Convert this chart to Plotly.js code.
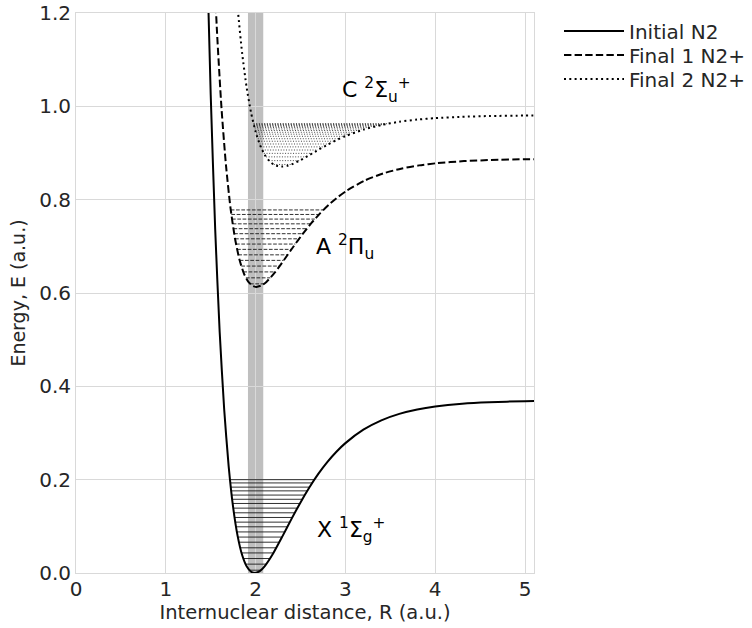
<!DOCTYPE html>
<html>
<head>
<meta charset="utf-8">
<script src="https://cdn.plot.ly/plotly-3.0.1.min.js"></script>
<style>html,body{margin:0;padding:0;background:#fff}</style>
</head>
<body>
<div id="chart" style="width:752px;height:628px"></div>
<script>
// ---- Potential curves ----
const xR = [1.46,1.5,1.55,1.6,1.65,1.7,1.75,1.8,1.85,1.9,1.95,1.99,2.05,2.1,2.2,2.3,2.4,2.5,2.6,2.7,2.8,2.9,3.0,3.2,3.4,3.6,3.8,4.0,4.3,4.6,5.0,5.2];
const xE = [1.316,1.025,0.736,0.516,0.351,0.2286,0.1404,0.0791,0.0386,0.0144,0.0026,0,0.0047,0.0144,0.0435,0.079,0.1159,0.1513,0.1838,0.2128,0.2381,0.2598,0.2783,0.3071,0.3272,0.341,0.3504,0.3568,0.3628,0.366,0.3682,0.3692];

const aR = [1.52,1.57,1.62,1.67,1.72,1.77,1.82,1.87,1.92,1.97,2.01,2.07,2.12,2.22,2.32,2.42,2.52,2.62,2.72,2.82,2.92,3.02,3.22,3.42,3.62,3.82,4.02,4.32,4.62,5.02,5.22];
const aE = [1.375,1.160,0.9966,0.8739,0.7829,0.7174,0.6718,0.6417,0.6237,0.6149,0.613,0.6165,0.6237,0.6453,0.6717,0.6991,0.7254,0.7496,0.7711,0.7899,0.8061,0.8199,0.8413,0.8562,0.8664,0.8735,0.8782,0.8826,0.885,0.8867,0.8868];

const cR = [1.76,1.8,1.85,1.9,1.95,2.0,2.05,2.1,2.15,2.2,2.25,2.29,2.35,2.4,2.5,2.6,2.7,2.8,2.9,3.0,3.2,3.4,3.6,3.8,4.0,4.3,4.6,5.0,5.2];
const cE = [1.309,1.2108,1.114,1.0406,0.9858,0.9455,0.9166,0.8965,0.8834,0.8756,0.8718,0.871,0.8725,0.8756,0.8847,0.8957,0.907,0.9178,0.9276,0.9362,0.9501,0.96,0.9669,0.9716,0.9747,0.9776,0.9792,0.9802,0.9805];

// ---- Vibrational levels: energy, left and right turning points ----
const xLevE = [0.006,0.019,0.031,0.043,0.054,0.066,0.077,0.088,0.099,0.109,0.119,0.129,0.139,0.149,0.158,0.167,0.176,0.184,0.193,0.2];
const xLevL = [1.930,1.888,1.863,1.843,1.828,1.814,1.802,1.791,1.782,1.773,1.765,1.758,1.751,1.744,1.739,1.733,1.728,1.723,1.718,1.714];
const xLevR = [2.058,2.119,2.161,2.198,2.231,2.264,2.295,2.324,2.354,2.381,2.409,2.436,2.465,2.493,2.520,2.547,2.575,2.601,2.630,2.654];

const aLevE = [0.6196,0.6325,0.6452,0.6577,0.6699,0.6818,0.6935,0.7049,0.7161,0.7271,0.7378,0.7482,0.7584,0.7683,0.778];
const aLevL = [1.938,1.892,1.863,1.841,1.823,1.807,1.794,1.782,1.771,1.761,1.753,1.744,1.737,1.730,1.723];
const aLevR = [2.094,2.165,2.220,2.268,2.313,2.357,2.399,2.442,2.484,2.526,2.570,2.614,2.659,2.706,2.755];

const cLevE = [0.8754,0.8837,0.8917,0.8992,0.9064,0.9131,0.9193,0.9252,0.9306,0.9357,0.9403,0.9444,0.9482,0.9515,0.9545,0.957,0.959,0.9607,0.9619,0.9628];
const cLevL = [2.202,2.149,2.116,2.092,2.073,2.057,2.044,2.033,2.024,2.015,2.008,2.002,1.996,1.991,1.987,1.984,1.981,1.979,1.978,1.977];
const cLevR = [2.397,2.491,2.565,2.631,2.694,2.755,2.815,2.875,2.934,2.993,3.052,3.110,3.168,3.225,3.279,3.330,3.377,3.417,3.449,3.471];

// ---- Franck-Condon band and labels ----
const bandR = [1.915, 2.085];
const seriesNames = ['Initial N2', 'Final 1 N2+', 'Final 2 N2+'];
const stateLabels = ['X <sup>1</sup>Σ<sub>g</sub><sup>+</sup>', 'A <sup>2</sup>Π<sub>u</sub>', 'C <sup>2</sup>Σ<sub>u</sub><sup>+</sup>'];
const labelR = [2.665, 2.645, 2.94];
const labelE = [0.092, 0.698, 1.035];
const xTicks = [0,1,2,3,4,5];
const yTicks = [0,0.2,0.4,0.6,0.8,1.0,1.2];

function segs(L, R, E) {
  const x = [], y = [];
  for (let i = 0; i < E.length; i++) { x.push(L[i], R[i], null); y.push(E[i], E[i], null); }
  return {x, y};
}
const sx = segs(xLevL, xLevR, xLevE);
const sa = segs(aLevL, aLevR, aLevE);
const sc = segs(cLevL, cLevR, cLevE);

const traces = [
  {x: sx.x, y: sx.y, mode: 'lines', showlegend: false, hoverinfo: 'skip',
   line: {color: '#1a1a1a', width: 0.9}},
  {x: sa.x, y: sa.y, mode: 'lines', showlegend: false, hoverinfo: 'skip',
   line: {color: '#1a1a1a', width: 0.9, dash: '3.7px,1.6px'}},
  {x: sc.x, y: sc.y, mode: 'lines', showlegend: false, hoverinfo: 'skip',
   line: {color: '#333', width: 0.9, dash: '1px,1.65px'}},
  {x: xR, y: xE, mode: 'lines', name: seriesNames[0], legend: 'legend',
   line: {color: '#000', width: 2, shape: 'spline', smoothing: 0.6}},
  {x: aR, y: aE, mode: 'lines', name: seriesNames[1], legend: 'legend2',
   line: {color: '#000', width: 2, dash: '7.4px,3.2px', shape: 'spline', smoothing: 0.6}},
  {x: cR, y: cE, mode: 'lines', name: seriesNames[2], legend: 'legend3',
   line: {color: '#000', width: 2, dash: '2px,3.3px', shape: 'spline', smoothing: 0.6}}
];

const annotations = stateLabels.map((t, i) => ({
  x: labelR[i], y: labelE[i], xref: 'x', yref: 'y', text: t, showarrow: false,
  xanchor: 'left', yanchor: 'middle',
  font: {family: 'DejaVu Sans, sans-serif', size: 22, color: '#000'}
}));

const gridC = '#d9d9d9';
const txtC = '#262626';
const fam = 'DejaVu Sans, sans-serif';
const legendYs = [0.968, 0.925, 0.882];
function legendAt(y) {
  return {
    x: 1.0546, y: y, xanchor: 'left', yanchor: 'middle',
    bgcolor: 'rgba(0,0,0,0)', borderwidth: 0,
    font: {family: fam, size: 20, color: txtC}, itemwidth: 60
  };
}
const layout = {
  width: 752, height: 628,
  margin: {l: 76, r: 218, t: 13, b: 55, pad: 0, autoexpand: false},
  paper_bgcolor: '#fff', plot_bgcolor: '#fff',
  font: {family: fam, size: 20, color: txtC},
  xaxis: {
    range: [0, 5.1], tickvals: xTicks, ticktext: xTicks.map(String),
    showgrid: true, gridcolor: gridC, gridwidth: 1, zeroline: false,
    showline: true, linecolor: gridC, linewidth: 1, mirror: true, ticks: '',
    tickfont: {family: fam, size: 20, color: txtC}, ticklabelstandoff: -2,
    title: {text: 'Internuclear distance, R (a.u.)', font: {family: fam, size: 19.5, color: txtC}, standoff: 2}
  },
  yaxis: {
    range: [0, 1.2], tickvals: yTicks, ticktext: yTicks.map(v => v.toFixed(1)),
    showgrid: true, gridcolor: gridC, gridwidth: 1, zeroline: false,
    showline: true, linecolor: gridC, linewidth: 1, mirror: true, ticks: '',
    tickfont: {family: fam, size: 20, color: txtC},
    title: {text: 'Energy, E (a.u.)', font: {family: fam, size: 19, color: txtC}, standoff: 8}
  },
  legend: legendAt(legendYs[0]),
  legend2: legendAt(legendYs[1]),
  legend3: legendAt(legendYs[2]),
  shapes: [{
    type: 'rect', xref: 'x', yref: 'paper', x0: bandR[0], x1: bandR[1], y0: 0, y1: 1,
    fillcolor: 'rgba(128,128,128,0.5)', line: {width: 0}, layer: 'between'
  }],
  annotations: annotations
};

Plotly.newPlot('chart', traces, layout, {displayModeBar: false, staticPlot: true});
</script>
</body>
</html>
